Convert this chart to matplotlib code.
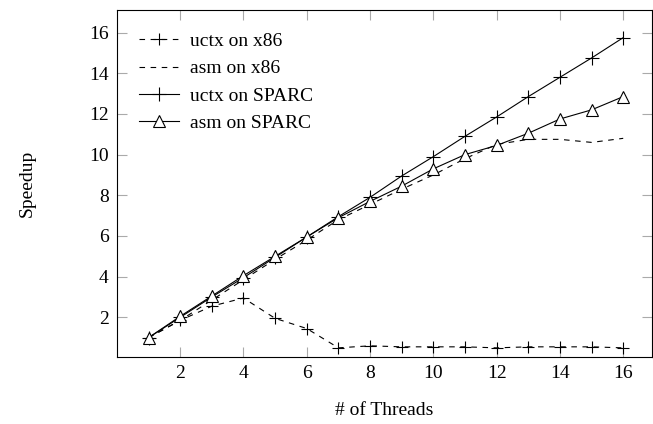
import matplotlib
matplotlib.use('Agg')
from matplotlib import pyplot as plt

threads = list(range(1, 17))

# speedup per thread count
uctx_x86 = [1.0, 1.85, 2.55, 2.95, 1.95, 1.45, 0.5, 0.6, 0.55, 0.55, 0.55, 0.5, 0.55, 0.55, 0.55, 0.5]
asm_x86 = [1.0, 1.85, 2.85, 3.85, 4.85, 5.8, 6.8, 7.55, 8.3, 9.0, 9.8, 10.5, 10.75, 10.75, 10.6, 10.8]
uctx_sparc = [1.0, 2.0, 3.0, 3.95, 4.95, 5.95, 6.95, 7.9, 8.95, 9.9, 10.9, 11.85, 12.85, 13.8, 14.75, 15.75]
asm_sparc = [1.0, 2.05, 3.05, 4.05, 5.0, 5.95, 6.9, 7.7, 8.45, 9.3, 10.0, 10.45, 11.05, 11.75, 12.2, 12.85]

plt.rcParams['font.family'] = ['Liberation Serif', 'DejaVu Serif']
plt.rcParams['font.size'] = 14

fig = plt.figure(figsize=(6.53, 4.24), dpi=100)
ax = fig.add_axes([0.179, 0.158, 0.819, 0.818])

dash = (0, (5, 5))
ax.plot(threads, uctx_x86, color='black', lw=0.8, linestyle=dash, marker='+', ms=9, mew=0.8, label='uctx on x86')
ax.plot(threads, asm_x86, color='black', lw=0.8, linestyle=dash, label='asm on x86')
ax.plot(threads, uctx_sparc, color='black', lw=0.8, marker='+', ms=10, mew=0.8, label='uctx on SPARC')
ax.plot(threads, asm_sparc, color='black', lw=0.8, marker='^', ms=8, mew=0.8, mfc='white', label='asm on SPARC')

ax.set_xlim(0.0, 16.9)
ax.set_ylim(0.05, 17.1)
ax.set_xticks(range(2, 17, 2))
ax.set_yticks(range(2, 17, 2))
ax.tick_params(direction='in', length=7, width=0.8, color='#aaaaaa', top=True, right=True,
               labelsize=14, pad=6)
for s in ax.spines.values():
    s.set_linewidth(0.8)

ax.set_xlabel('# of Threads', labelpad=14)
ax.set_ylabel('Speedup', labelpad=38)

ax.legend(loc='upper left', frameon=False, handlelength=2.05, handletextpad=0.55,
          labelspacing=0.5, borderaxespad=0.75, fontsize=14)

fig.savefig('out.png', dpi=100)
